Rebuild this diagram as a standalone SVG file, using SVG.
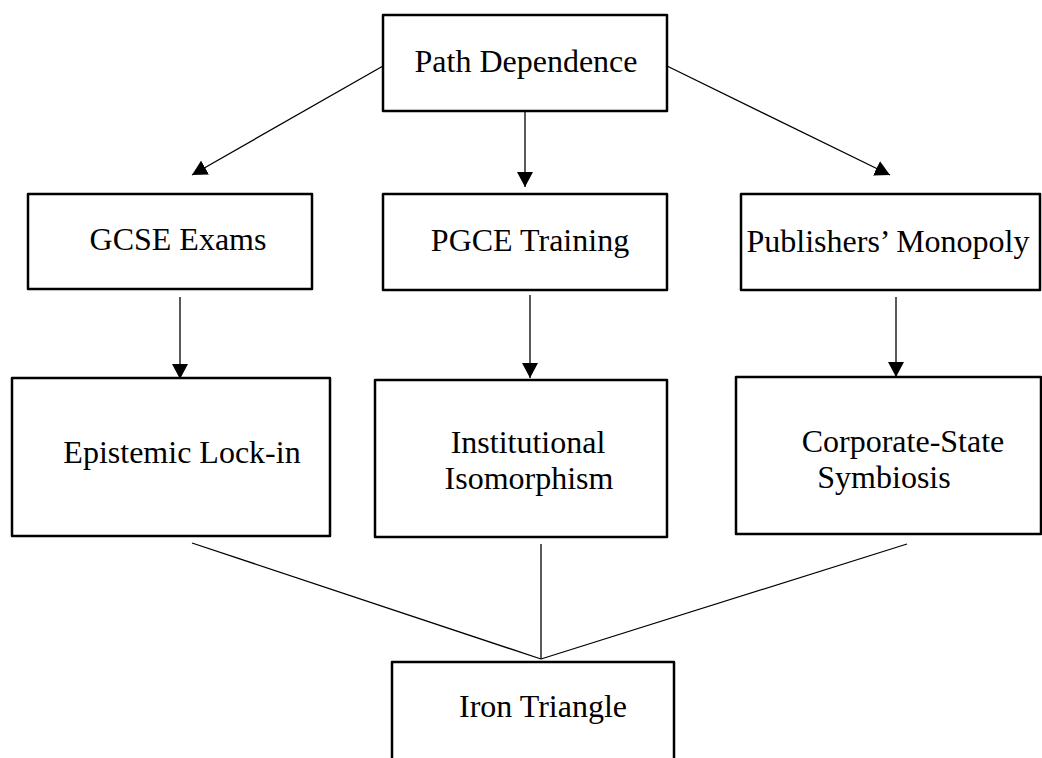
<svg xmlns="http://www.w3.org/2000/svg" width="1042" height="758" viewBox="0 0 1042 758">
<style>
.box{fill:#fff;stroke:#000;stroke-width:2.5;stroke-linejoin:round}
.lbl{font-family:"Liberation Serif","Times New Roman",serif;font-size:32px;fill:#000;text-anchor:middle}
.con{stroke:#000;stroke-width:1.3;fill:none}
.arr{marker-end:url(#ah)}
</style>
<defs>
<marker id="ah" markerUnits="userSpaceOnUse" viewBox="0 0 15 16" markerWidth="15" markerHeight="16" refX="15" refY="8" orient="auto">
<path d="M0,0 L15,8 L0,16 z" fill="#000"/>
</marker>
</defs>
<rect width="1042" height="758" fill="#fff"/>
<g id="connectors">
<line class="con arr" x1="383" y1="66" x2="192" y2="175"/>
<line class="con arr" x1="525" y1="111" x2="525" y2="187"/>
<line class="con arr" x1="667" y1="66" x2="890" y2="175"/>
<line class="con arr" x1="180" y1="297" x2="180" y2="379"/>
<line class="con arr" x1="530" y1="295" x2="530" y2="378"/>
<line class="con arr" x1="896" y1="297" x2="896" y2="377"/>
<line class="con" x1="192" y1="543" x2="541" y2="659"/>
<line class="con" x1="541" y1="544" x2="541" y2="659" stroke="#555"/>
<line class="con" x1="907" y1="544" x2="541" y2="659"/>
</g>
<g id="path-dependence">
<rect class="box" x="383" y="15" width="284" height="96"/>
<text class="lbl" x="526" y="72">Path Dependence</text>
</g>
<g id="gcse-exams">
<rect class="box" x="28" y="194" width="284" height="95"/>
<text class="lbl" x="178" y="250">GCSE Exams</text>
</g>
<g id="pgce-training">
<rect class="box" x="383" y="194" width="284" height="96"/>
<text class="lbl" x="530" y="251">PGCE Training</text>
</g>
<g id="publishers-monopoly">
<rect class="box" x="741" y="194" width="299" height="96"/>
<text class="lbl" x="888" y="252">Publishers’ Monopoly</text>
</g>
<g id="epistemic-lock-in">
<rect class="box" x="12" y="378" width="318" height="158"/>
<text class="lbl" x="182" y="463">Epistemic Lock-in</text>
</g>
<g id="institutional-isomorphism">
<rect class="box" x="375" y="380" width="292" height="157"/>
<text class="lbl" x="528" y="453">Institutional</text>
<text class="lbl" x="529" y="489">Isomorphism</text>
</g>
<g id="corporate-state-symbiosis">
<rect class="box" x="736" y="377" width="305" height="157"/>
<text class="lbl" x="903" y="452">Corporate-State</text>
<text class="lbl" x="884" y="488">Symbiosis</text>
</g>
<g id="iron-triangle">
<rect class="box" x="392" y="662" width="282" height="110"/>
<text class="lbl" x="543" y="717">Iron Triangle</text>
</g>
</svg>
